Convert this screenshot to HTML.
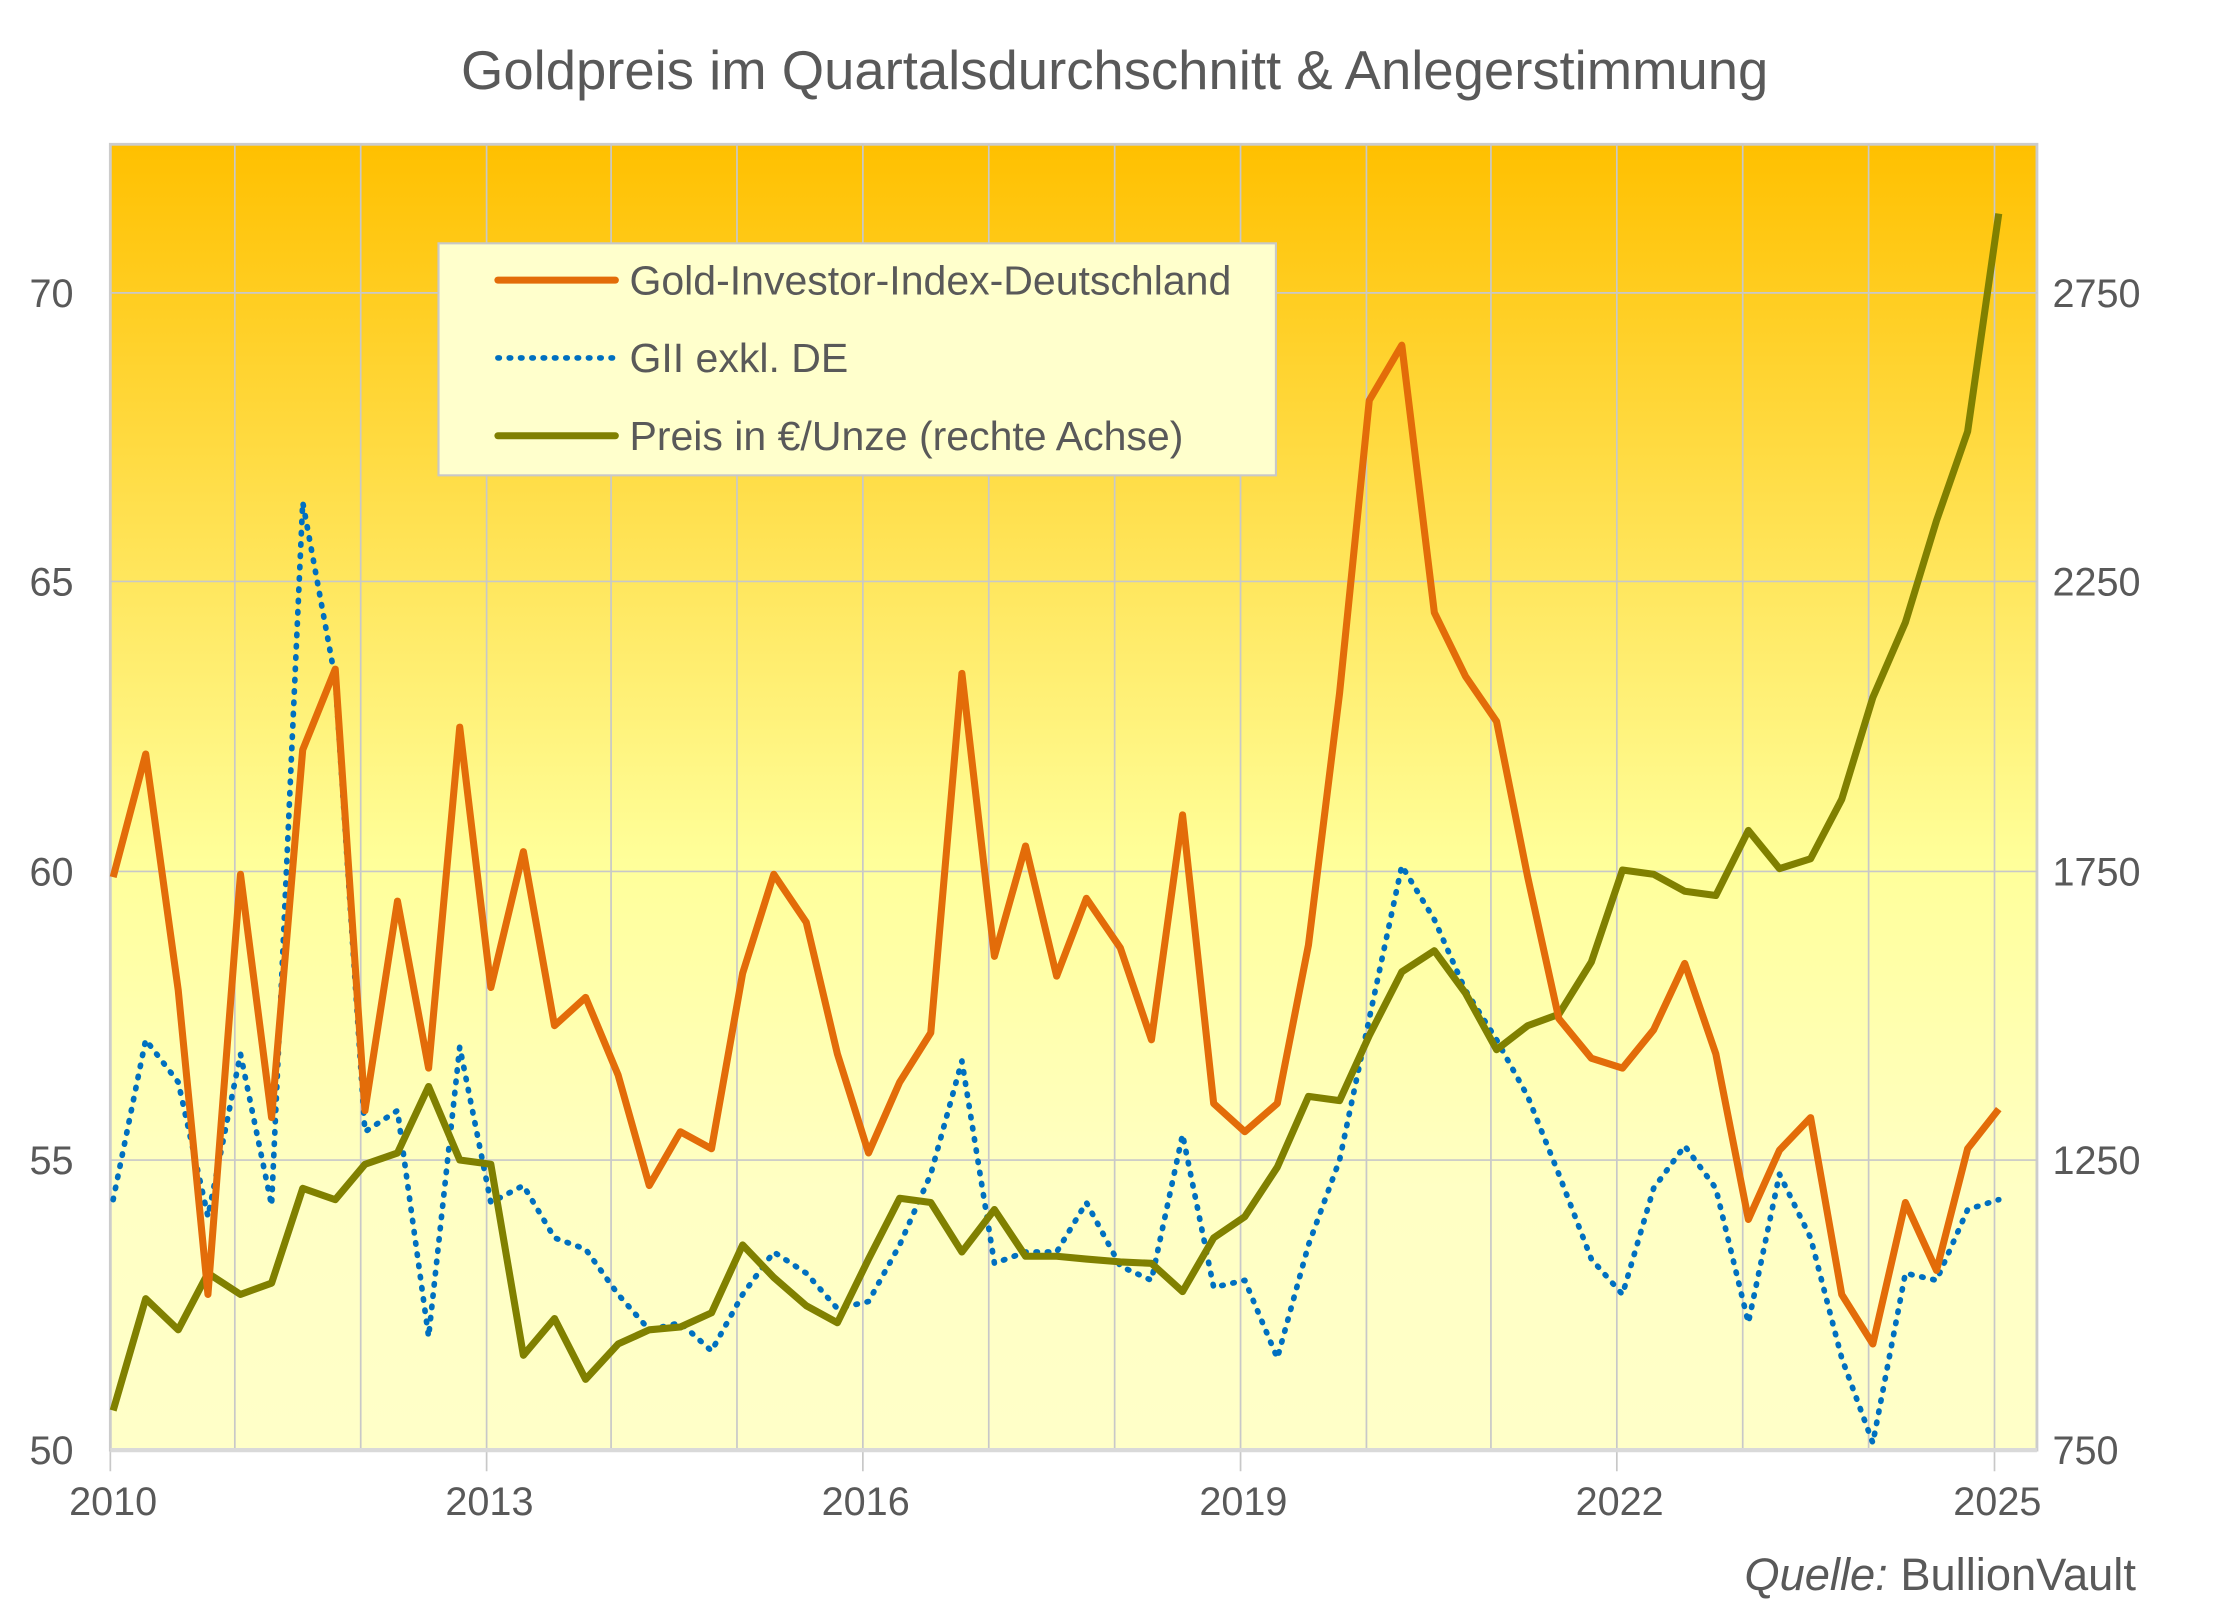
<!DOCTYPE html>
<html><head><meta charset="utf-8"><style>html,body{margin:0;padding:0;background:#fff}svg{display:block}</style></head><body>
<svg width="2218" height="1617" viewBox="0 0 1568 1143" preserveAspectRatio="none" xmlns="http://www.w3.org/2000/svg" font-family="Liberation Sans, sans-serif">
<defs><linearGradient id="g" x1="0" y1="0" x2="0" y2="1"><stop offset="0" stop-color="#FFC000"/><stop offset="0.55" stop-color="#FFFF9A"/><stop offset="0.8" stop-color="#FFFFC4"/><stop offset="1" stop-color="#FFFFC8"/></linearGradient></defs>
<text x="788" y="63" text-anchor="middle" font-size="38.5" fill="#595959">Goldpreis im Quartalsdurchschnitt &amp; Anlegerstimmung</text>
<rect x="78" y="102" width="1362" height="923" fill="url(#g)" stroke="#ccc" stroke-width="2"/>
<g stroke="#c8c8c8" stroke-width="1.2">
<path d="M166 102V1025M255 102V1025M344 102V1025M432 102V1025M521 102V1025M610 102V1025M699 102V1025M788 102V1025M877 102V1025M966 102V1025M1054 102V1025M1143 102V1025M1232 102V1025M1321 102V1025M1410 102V1025"/>
<path d="M78 207H1440M78 411H1440M78 616H1440M78 820H1440"/>
<path d="M78 1025V1040M344 1025V1040M610 1025V1040M877 1025V1040M1143 1025V1040M1410 1025V1040"/>
</g>
<path d="M78 1025H1440" stroke="#d9d9d9" stroke-width="3"/>
<g font-size="28" fill="#595959">
<g text-anchor="end"><text x="52" y="1035">50</text><text x="52" y="830">55</text><text x="52" y="626">60</text><text x="52" y="421">65</text><text x="52" y="217">70</text></g>
<g><text x="1451" y="1035">750</text><text x="1451" y="830">1250</text><text x="1451" y="626">1750</text><text x="1451" y="421">2250</text><text x="1451" y="217">2750</text></g>
<g text-anchor="middle"><text x="80" y="1071">2010</text><text x="346" y="1071">2013</text><text x="612" y="1071">2016</text><text x="879" y="1071">2019</text><text x="1145" y="1071">2022</text><text x="1412" y="1071">2025</text></g>
</g>
<text x="1510" y="1124" text-anchor="end" font-size="32" fill="#595959"><tspan font-style="italic">Quelle:</tspan> BullionVault</text>
<polyline fill="none" stroke="#0070C0" stroke-width="4" stroke-dasharray="1 7" stroke-linecap="round" stroke-linejoin="round" points="80,848 103,735 126,765 147,860 170,745 192,852 214,355 237,480 258,800 281,785 303,945 325,740 347,850 370,838 392,875 414,883 437,915 459,940 481,935 503,955 525,915 547,885 570,900 592,925 614,920 636,880 658,830 680,750 703,893 725,885 747,885 768,850 792,895 814,905 836,802 858,910 880,905 903,960 925,880 947,820 968,720 991,612 1014,650 1036,700 1058,735 1080,775 1102,830 1125,890 1147,915 1169,840 1191,810 1213,840 1236,935 1258,830 1280,875 1302,960 1324,1020 1347,900 1369,905 1391,855 1413,848"/>
<polyline fill="none" stroke="#808000" stroke-width="5" stroke-linejoin="round" points="80,997 103,918 126,940 147,900 170,915 192,907 214,840 237,848 258,823 281,815 303,768 325,820 347,823 370,958 392,932 414,975 437,950 459,940 481,938 503,928 525,880 547,903 570,923 592,935 614,890 636,847 658,850 680,885 703,855 725,888 747,888 768,890 792,892 814,893 836,913 858,875 880,860 903,825 925,775 947,778 968,732 991,687 1014,672 1036,702 1058,742 1080,725 1102,717 1125,680 1147,615 1169,618 1191,630 1213,633 1236,587 1258,614 1280,607 1302,565 1324,493 1347,440 1369,368 1391,305 1413,151"/>
<polyline fill="none" stroke="#E36C09" stroke-width="5" stroke-linejoin="round" points="80,620 103,533 126,700 147,915 170,618 192,790 214,530 237,473 258,785 281,637 303,755 325,514 347,698 370,602 392,725 414,705 437,760 459,838 481,800 503,812 525,688 547,618 570,652 592,745 614,815 636,765 658,730 680,476 703,676 725,598 747,690 768,635 792,670 814,735 836,576 858,780 880,800 903,780 925,668 947,490 968,283 991,244 1014,433 1036,478 1058,510 1080,620 1102,720 1125,748 1147,755 1169,728 1191,681 1213,745 1236,862 1258,813 1280,790 1302,915 1324,950 1347,850 1369,898 1391,812 1413,784"/>
<rect x="310" y="172" width="592" height="164" fill="#FFFFCC" stroke="#c8c8c8" stroke-width="1.5"/>
<path d="M352 198H435" stroke="#E36C09" stroke-width="5" stroke-linecap="round"/>
<path d="M352 253H435" stroke="#0070C0" stroke-width="4" stroke-dasharray="1 7" stroke-linecap="round"/>
<path d="M352 308H435" stroke="#808000" stroke-width="5" stroke-linecap="round"/>
<g font-size="29" fill="#595959"><text x="445" y="208">Gold-Investor-Index-Deutschland</text><text x="445" y="263">GII exkl. DE</text><text x="445" y="318">Preis in €/Unze (rechte Achse)</text></g>
</svg>
</body></html>
